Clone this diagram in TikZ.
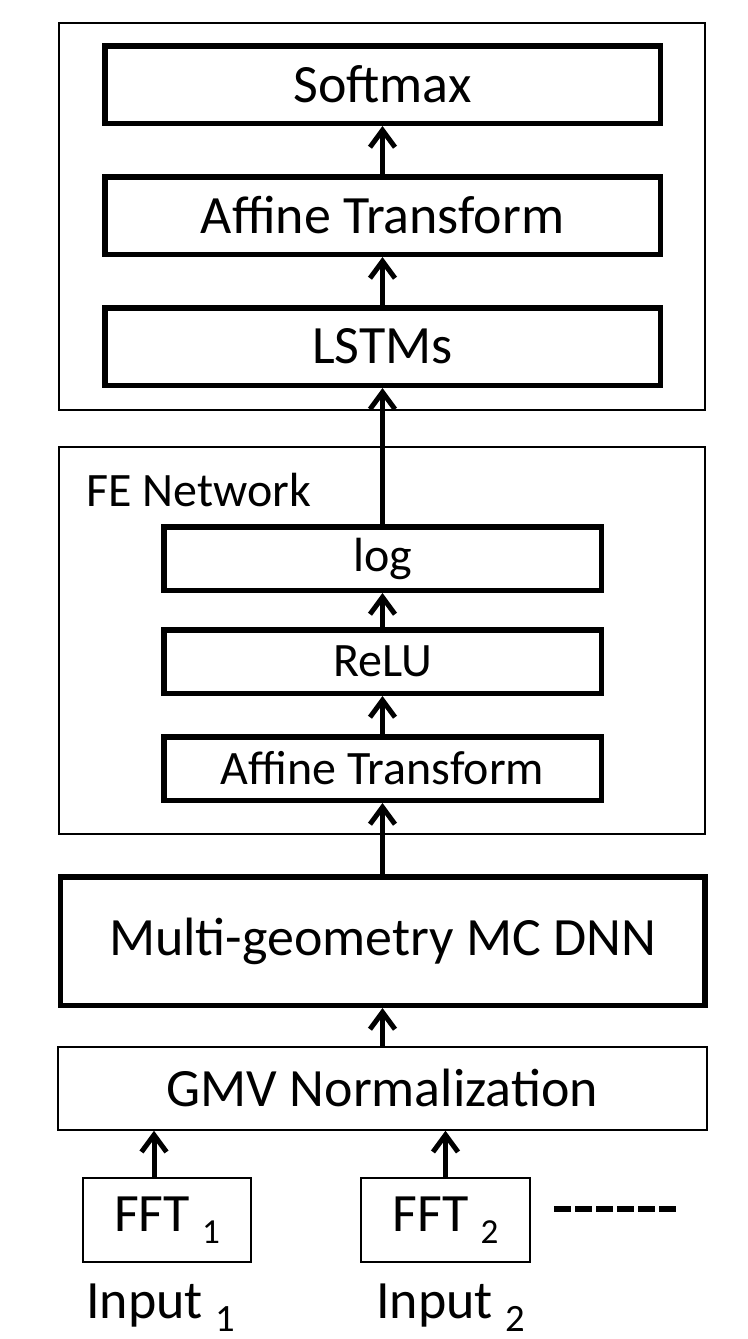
\documentclass[tikz,border=0pt]{standalone}
\usepackage{fontspec}
\setmainfont{Carlito}
\usetikzlibrary{positioning,arrows.meta}

\newcommand{\fftidx}[1]{~\raisebox{-0.24cm}{\fontsize{20pt}{22pt}\selectfont #1}}
\newcommand{\inidx}[1]{~\raisebox{-0.26cm}{\fontsize{22pt}{24pt}\selectfont #1}}

\begin{document}
\begin{tikzpicture}[
  bigtxt/.style={font=\fontsize{30.7pt}{36pt}\selectfont},
  midtxt/.style={font=\fontsize{27.3pt}{32pt}\selectfont},
  thickbox/.style={draw, line width=0.11cm, inner sep=0pt},
  thinbox/.style={draw, line width=0.035cm, inner sep=0pt},
  arr/.style={line width=0.1cm, -{Straight Barb[length=0.34cm,width=0.5cm]}},
]
\useasboundingbox (0,0) rectangle (14.94,-26.78);

% decoder part
\node (dec) [thinbox, minimum width=12.93cm, minimum height=7.74cm] at (7.64,-4.33) {};
\node (softmax) [thickbox, bigtxt, minimum width=11.11cm, minimum height=1.55cm] at (7.65,-1.69) {Softmax};
\node (affine) [thickbox, bigtxt, minimum width=11.11cm, minimum height=1.55cm, below=0.96cm of softmax] {Affine Transform};
\node (lstm) [thickbox, bigtxt, minimum width=11.11cm, minimum height=1.55cm, below=0.96cm of affine] {LSTMs};

% FE network
\node (fe) [thinbox, minimum width=12.93cm, minimum height=7.74cm] at (7.64,-12.81) {};
\node (felabel) [midtxt, anchor=base west, inner sep=0pt] at (1.72,-10.12) {FE Network};
\node (log) [thickbox, midtxt, minimum width=8.75cm, minimum height=1.27cm] at (7.65,-11.17) {log};
\node (relu) [thickbox, midtxt, minimum width=8.75cm, minimum height=1.27cm, below=0.68cm of log] {ReLU};
\node (affine2) [thickbox, midtxt, minimum width=8.75cm, minimum height=1.27cm, below=0.76cm of relu] {Affine Transform};

% front end
\node (multi) [thickbox, bigtxt, minimum width=12.89cm, minimum height=2.57cm, below=1.42cm of affine2] {Multi-geometry MC DNN};
\node (gmv) [thinbox, bigtxt, minimum width=12.97cm, minimum height=1.66cm, below=0.76cm of multi] {GMV Normalization};
\node (fft1) [thinbox, bigtxt, line width=0.04cm, minimum width=3.36cm, minimum height=1.68cm] at (3.34,-24.4) {FFT\fftidx{1}};
\node (fft2) [thinbox, bigtxt, line width=0.04cm, minimum width=3.38cm, minimum height=1.68cm] at (8.91,-24.4) {FFT\fftidx{2}};
\node (in1) [bigtxt, inner sep=0pt, below=0.42cm of fft1, xshift=-0.13cm] {Input\inidx{1}};
\node (in2) [bigtxt, inner sep=0pt, below=0.42cm of fft2, xshift=0.1cm] {Input\inidx{2}};

\draw[arr] (affine) -- (softmax);
\draw[arr] (lstm) -- (affine);
\draw[arr] (log) -- (lstm);
\draw[arr] (relu) -- (log);
\draw[arr] (affine2) -- (relu);
\draw[arr] (multi) -- (affine2);
\draw[arr] (gmv) -- (multi);
\coordinate (fft1top) at ([xshift=-0.26cm]fft1.north);
\draw[arr] (fft1top) -- (fft1top |- gmv.south);
\draw[arr] (fft2) -- (gmv.south -| fft2);
\draw[line width=0.12cm, dash pattern=on 0.34cm off 0.08cm] ([xshift=0.46cm,yshift=0.22cm]fft2.east) -- ++(2.44,0);
\end{tikzpicture}
\end{document}
